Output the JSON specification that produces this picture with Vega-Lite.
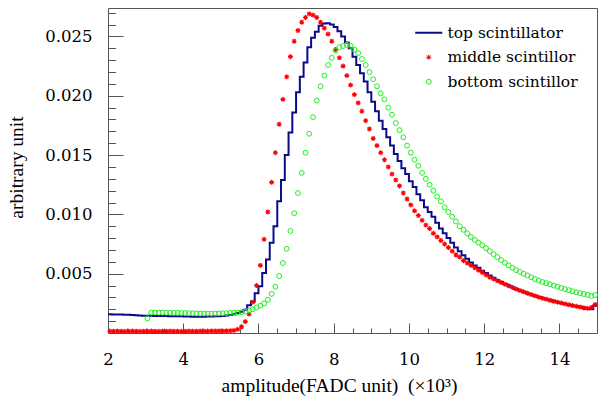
{
"$schema":"https://vega.github.io/schema/vega-lite/v6.json",
"width":489,"height":325,
"autosize":{"type":"none"},
"padding":{"left":108,"top":8,"right":2,"bottom":69},
"background":"white",
"config":{
 "view":{"stroke":"#555555","strokeWidth":1},
 "axis":{"grid":false,"domain":false,"tickColor":"#555555","tickWidth":1,"titleFont":"Liberation Serif","labelFont":"DejaVu Serif","labelFontSize":16.5,"titleFontSize":19.5,"labelColor":"#000000","titleColor":"#000000","titleFontWeight":"normal","labelFlush":false,"labelOverlap":false},
 "legend":{"orient":"none","legendX":313,"legendY":17,"title":null,"labelFont":"DejaVu Serif","labelFontSize":15.5,"labelColor":"#000000","symbolSize":729,"labelOffset":11,"rowPadding":7.5,"padding":0,"symbolStrokeWidth":1}
},
"datasets":{
"top":[
{"series":"top scintillator","x":2.0,"y":0.00158},{"series":"top scintillator","x":2.1,"y":0.00157},{"series":"top scintillator","x":2.2,"y":0.00156},{"series":"top scintillator","x":2.3,"y":0.00155},{"series":"top scintillator","x":2.4,"y":0.00154},{"series":"top scintillator","x":2.5,"y":0.00153},{"series":"top scintillator","x":2.6,"y":0.00151},{"series":"top scintillator","x":2.7,"y":0.00149},{"series":"top scintillator","x":2.8,"y":0.00147},{"series":"top scintillator","x":2.9,"y":0.00146},
{"series":"top scintillator","x":3.0,"y":0.00145},{"series":"top scintillator","x":3.1,"y":0.00145},{"series":"top scintillator","x":3.2,"y":0.00144},{"series":"top scintillator","x":3.3,"y":0.00144},{"series":"top scintillator","x":3.4,"y":0.00143},{"series":"top scintillator","x":3.5,"y":0.00143},{"series":"top scintillator","x":3.6,"y":0.00142},{"series":"top scintillator","x":3.7,"y":0.00142},{"series":"top scintillator","x":3.8,"y":0.00141},{"series":"top scintillator","x":3.9,"y":0.00141},
{"series":"top scintillator","x":4.0,"y":0.00140},{"series":"top scintillator","x":4.1,"y":0.00139},{"series":"top scintillator","x":4.2,"y":0.00138},{"series":"top scintillator","x":4.3,"y":0.00137},{"series":"top scintillator","x":4.4,"y":0.00137},{"series":"top scintillator","x":4.5,"y":0.00138},{"series":"top scintillator","x":4.6,"y":0.00139},{"series":"top scintillator","x":4.7,"y":0.00140},{"series":"top scintillator","x":4.8,"y":0.00141},{"series":"top scintillator","x":4.9,"y":0.00142},
{"series":"top scintillator","x":5.0,"y":0.00144},{"series":"top scintillator","x":5.1,"y":0.00147},{"series":"top scintillator","x":5.2,"y":0.00151},{"series":"top scintillator","x":5.3,"y":0.00158},{"series":"top scintillator","x":5.4,"y":0.00168},{"series":"top scintillator","x":5.5,"y":0.00180},{"series":"top scintillator","x":5.6,"y":0.00196},{"series":"top scintillator","x":5.7,"y":0.00235},{"series":"top scintillator","x":5.8,"y":0.00265},{"series":"top scintillator","x":5.9,"y":0.00335},
{"series":"top scintillator","x":6.0,"y":0.00395},{"series":"top scintillator","x":6.1,"y":0.00505},{"series":"top scintillator","x":6.2,"y":0.00620},{"series":"top scintillator","x":6.3,"y":0.00760},{"series":"top scintillator","x":6.4,"y":0.00900},{"series":"top scintillator","x":6.5,"y":0.01110},{"series":"top scintillator","x":6.6,"y":0.01290},{"series":"top scintillator","x":6.7,"y":0.01500},{"series":"top scintillator","x":6.8,"y":0.01690},{"series":"top scintillator","x":6.9,"y":0.01860},
{"series":"top scintillator","x":7.0,"y":0.02030},{"series":"top scintillator","x":7.1,"y":0.02160},{"series":"top scintillator","x":7.2,"y":0.02280},{"series":"top scintillator","x":7.3,"y":0.02410},{"series":"top scintillator","x":7.4,"y":0.02490},{"series":"top scintillator","x":7.5,"y":0.02540},{"series":"top scintillator","x":7.6,"y":0.02590},{"series":"top scintillator","x":7.7,"y":0.02610},{"series":"top scintillator","x":7.8,"y":0.02612},{"series":"top scintillator","x":7.9,"y":0.02600},
{"series":"top scintillator","x":8.0,"y":0.02580},{"series":"top scintillator","x":8.1,"y":0.02545},{"series":"top scintillator","x":8.2,"y":0.02500},{"series":"top scintillator","x":8.3,"y":0.02450},{"series":"top scintillator","x":8.4,"y":0.02400},{"series":"top scintillator","x":8.5,"y":0.02330},{"series":"top scintillator","x":8.6,"y":0.02260},{"series":"top scintillator","x":8.7,"y":0.02190},{"series":"top scintillator","x":8.8,"y":0.02120},{"series":"top scintillator","x":8.9,"y":0.02030},
{"series":"top scintillator","x":9.0,"y":0.01950},{"series":"top scintillator","x":9.1,"y":0.01870},{"series":"top scintillator","x":9.2,"y":0.01790},{"series":"top scintillator","x":9.3,"y":0.01720},{"series":"top scintillator","x":9.4,"y":0.01650},{"series":"top scintillator","x":9.5,"y":0.01580},{"series":"top scintillator","x":9.6,"y":0.01510},{"series":"top scintillator","x":9.7,"y":0.01450},{"series":"top scintillator","x":9.8,"y":0.01390},{"series":"top scintillator","x":9.9,"y":0.01340},
{"series":"top scintillator","x":10.0,"y":0.01280},{"series":"top scintillator","x":10.1,"y":0.01230},{"series":"top scintillator","x":10.2,"y":0.01170},{"series":"top scintillator","x":10.3,"y":0.01120},{"series":"top scintillator","x":10.4,"y":0.01060},{"series":"top scintillator","x":10.5,"y":0.01020},{"series":"top scintillator","x":10.6,"y":0.00980},{"series":"top scintillator","x":10.7,"y":0.00930},{"series":"top scintillator","x":10.8,"y":0.00880},{"series":"top scintillator","x":10.9,"y":0.00840},
{"series":"top scintillator","x":11.0,"y":0.00800},{"series":"top scintillator","x":11.1,"y":0.00760},{"series":"top scintillator","x":11.2,"y":0.00720},{"series":"top scintillator","x":11.3,"y":0.00690},{"series":"top scintillator","x":11.4,"y":0.00655},{"series":"top scintillator","x":11.5,"y":0.00625},{"series":"top scintillator","x":11.6,"y":0.00595},{"series":"top scintillator","x":11.7,"y":0.00570},{"series":"top scintillator","x":11.8,"y":0.00550},{"series":"top scintillator","x":11.9,"y":0.00525},
{"series":"top scintillator","x":12.0,"y":0.00505},{"series":"top scintillator","x":12.1,"y":0.00485},{"series":"top scintillator","x":12.2,"y":0.00465},{"series":"top scintillator","x":12.3,"y":0.00447},{"series":"top scintillator","x":12.4,"y":0.00430},{"series":"top scintillator","x":12.5,"y":0.00414},{"series":"top scintillator","x":12.6,"y":0.00400},{"series":"top scintillator","x":12.7,"y":0.00386},{"series":"top scintillator","x":12.8,"y":0.00372},{"series":"top scintillator","x":12.9,"y":0.00359},
{"series":"top scintillator","x":13.0,"y":0.00347},{"series":"top scintillator","x":13.1,"y":0.00335},{"series":"top scintillator","x":13.2,"y":0.00324},{"series":"top scintillator","x":13.3,"y":0.00313},{"series":"top scintillator","x":13.4,"y":0.00303},{"series":"top scintillator","x":13.5,"y":0.00294},{"series":"top scintillator","x":13.6,"y":0.00285},{"series":"top scintillator","x":13.7,"y":0.00276},{"series":"top scintillator","x":13.8,"y":0.00268},{"series":"top scintillator","x":13.9,"y":0.00260},
{"series":"top scintillator","x":14.0,"y":0.00252},{"series":"top scintillator","x":14.1,"y":0.00245},{"series":"top scintillator","x":14.2,"y":0.00238},{"series":"top scintillator","x":14.3,"y":0.00231},{"series":"top scintillator","x":14.4,"y":0.00225},{"series":"top scintillator","x":14.5,"y":0.00219},{"series":"top scintillator","x":14.6,"y":0.00213},{"series":"top scintillator","x":14.7,"y":0.00205},{"series":"top scintillator","x":14.8,"y":0.00200},{"series":"top scintillator","x":14.9,"y":0.00230},
{"series":"top scintillator","x":15.0,"y":0.00230}
],
"mid":[
{"series":"middle scintillor","x":2.05,"y":0.00016},{"series":"middle scintillor","x":2.15,"y":0.00015},{"series":"middle scintillor","x":2.25,"y":0.00016},{"series":"middle scintillor","x":2.35,"y":0.00015},{"series":"middle scintillor","x":2.45,"y":0.00014},{"series":"middle scintillor","x":2.55,"y":0.00015},{"series":"middle scintillor","x":2.65,"y":0.00016},{"series":"middle scintillor","x":2.75,"y":0.00015},{"series":"middle scintillor","x":2.85,"y":0.00014},{"series":"middle scintillor","x":2.95,"y":0.00015},
{"series":"middle scintillor","x":3.05,"y":0.00015},{"series":"middle scintillor","x":3.15,"y":0.00016},{"series":"middle scintillor","x":3.25,"y":0.00015},{"series":"middle scintillor","x":3.35,"y":0.00014},{"series":"middle scintillor","x":3.45,"y":0.00015},{"series":"middle scintillor","x":3.55,"y":0.00015},{"series":"middle scintillor","x":3.65,"y":0.00016},{"series":"middle scintillor","x":3.75,"y":0.00015},{"series":"middle scintillor","x":3.85,"y":0.00015},{"series":"middle scintillor","x":3.95,"y":0.00014},
{"series":"middle scintillor","x":4.05,"y":0.00015},{"series":"middle scintillor","x":4.15,"y":0.00016},{"series":"middle scintillor","x":4.25,"y":0.00015},{"series":"middle scintillor","x":4.35,"y":0.00015},{"series":"middle scintillor","x":4.45,"y":0.00016},{"series":"middle scintillor","x":4.55,"y":0.00016},{"series":"middle scintillor","x":4.65,"y":0.00016},{"series":"middle scintillor","x":4.75,"y":0.00017},{"series":"middle scintillor","x":4.85,"y":0.00017},{"series":"middle scintillor","x":4.95,"y":0.00017},
{"series":"middle scintillor","x":5.05,"y":0.00017},{"series":"middle scintillor","x":5.15,"y":0.00018},{"series":"middle scintillor","x":5.25,"y":0.00019},{"series":"middle scintillor","x":5.35,"y":0.00022},{"series":"middle scintillor","x":5.45,"y":0.00031},{"series":"middle scintillor","x":5.55,"y":0.00053},{"series":"middle scintillor","x":5.65,"y":0.00096},{"series":"middle scintillor","x":5.75,"y":0.00160},{"series":"middle scintillor","x":5.85,"y":0.00260},{"series":"middle scintillor","x":5.95,"y":0.00400},
{"series":"middle scintillor","x":6.05,"y":0.00570},{"series":"middle scintillor","x":6.15,"y":0.00790},{"series":"middle scintillor","x":6.25,"y":0.01020},{"series":"middle scintillor","x":6.35,"y":0.01270},{"series":"middle scintillor","x":6.45,"y":0.01520},{"series":"middle scintillor","x":6.55,"y":0.01760},{"series":"middle scintillor","x":6.65,"y":0.01970},{"series":"middle scintillor","x":6.75,"y":0.02160},{"series":"middle scintillor","x":6.85,"y":0.02330},{"series":"middle scintillor","x":6.95,"y":0.02460},
{"series":"middle scintillor","x":7.05,"y":0.02550},{"series":"middle scintillor","x":7.15,"y":0.02620},{"series":"middle scintillor","x":7.25,"y":0.02660},{"series":"middle scintillor","x":7.35,"y":0.02690},{"series":"middle scintillor","x":7.45,"y":0.02680},{"series":"middle scintillor","x":7.55,"y":0.02660},{"series":"middle scintillor","x":7.65,"y":0.02620},{"series":"middle scintillor","x":7.75,"y":0.02570},{"series":"middle scintillor","x":7.85,"y":0.02520},{"series":"middle scintillor","x":7.95,"y":0.02460},
{"series":"middle scintillor","x":8.05,"y":0.02390},{"series":"middle scintillor","x":8.15,"y":0.02320},{"series":"middle scintillor","x":8.25,"y":0.02250},{"series":"middle scintillor","x":8.35,"y":0.02170},{"series":"middle scintillor","x":8.45,"y":0.02090},{"series":"middle scintillor","x":8.55,"y":0.02010},{"series":"middle scintillor","x":8.65,"y":0.01940},{"series":"middle scintillor","x":8.75,"y":0.01870},{"series":"middle scintillor","x":8.85,"y":0.01790},{"series":"middle scintillor","x":8.95,"y":0.01720},
{"series":"middle scintillor","x":9.05,"y":0.01640},{"series":"middle scintillor","x":9.15,"y":0.01580},{"series":"middle scintillor","x":9.25,"y":0.01520},{"series":"middle scintillor","x":9.35,"y":0.01460},{"series":"middle scintillor","x":9.45,"y":0.01400},{"series":"middle scintillor","x":9.55,"y":0.01340},{"series":"middle scintillor","x":9.65,"y":0.01290},{"series":"middle scintillor","x":9.75,"y":0.01240},{"series":"middle scintillor","x":9.85,"y":0.01180},{"series":"middle scintillor","x":9.95,"y":0.01130},
{"series":"middle scintillor","x":10.05,"y":0.01080},{"series":"middle scintillor","x":10.15,"y":0.01030},{"series":"middle scintillor","x":10.25,"y":0.00990},{"series":"middle scintillor","x":10.35,"y":0.00950},{"series":"middle scintillor","x":10.45,"y":0.00910},{"series":"middle scintillor","x":10.55,"y":0.00880},{"series":"middle scintillor","x":10.65,"y":0.00840},{"series":"middle scintillor","x":10.75,"y":0.00810},{"series":"middle scintillor","x":10.85,"y":0.00780},{"series":"middle scintillor","x":10.95,"y":0.00750},
{"series":"middle scintillor","x":11.05,"y":0.00720},{"series":"middle scintillor","x":11.15,"y":0.00690},{"series":"middle scintillor","x":11.25,"y":0.00660},{"series":"middle scintillor","x":11.35,"y":0.00640},{"series":"middle scintillor","x":11.45,"y":0.00610},{"series":"middle scintillor","x":11.55,"y":0.00590},{"series":"middle scintillor","x":11.65,"y":0.00570},{"series":"middle scintillor","x":11.75,"y":0.00550},{"series":"middle scintillor","x":11.85,"y":0.00530},{"series":"middle scintillor","x":11.95,"y":0.00510},
{"series":"middle scintillor","x":12.05,"y":0.00490},{"series":"middle scintillor","x":12.15,"y":0.00470},{"series":"middle scintillor","x":12.25,"y":0.00456},{"series":"middle scintillor","x":12.35,"y":0.00440},{"series":"middle scintillor","x":12.45,"y":0.00426},{"series":"middle scintillor","x":12.55,"y":0.00412},{"series":"middle scintillor","x":12.65,"y":0.00398},{"series":"middle scintillor","x":12.75,"y":0.00384},{"series":"middle scintillor","x":12.85,"y":0.00371},{"series":"middle scintillor","x":12.95,"y":0.00359},
{"series":"middle scintillor","x":13.05,"y":0.00347},{"series":"middle scintillor","x":13.15,"y":0.00335},{"series":"middle scintillor","x":13.25,"y":0.00324},{"series":"middle scintillor","x":13.35,"y":0.00313},{"series":"middle scintillor","x":13.45,"y":0.00303},{"series":"middle scintillor","x":13.55,"y":0.00294},{"series":"middle scintillor","x":13.65,"y":0.00285},{"series":"middle scintillor","x":13.75,"y":0.00276},{"series":"middle scintillor","x":13.85,"y":0.00268},{"series":"middle scintillor","x":13.95,"y":0.00260},
{"series":"middle scintillor","x":14.05,"y":0.00252},{"series":"middle scintillor","x":14.15,"y":0.00245},{"series":"middle scintillor","x":14.25,"y":0.00238},{"series":"middle scintillor","x":14.35,"y":0.00231},{"series":"middle scintillor","x":14.45,"y":0.00225},{"series":"middle scintillor","x":14.55,"y":0.00219},{"series":"middle scintillor","x":14.65,"y":0.00213},{"series":"middle scintillor","x":14.75,"y":0.00208},{"series":"middle scintillor","x":14.85,"y":0.00215},{"series":"middle scintillor","x":14.95,"y":0.00240}
],
"bot":[
{"series":"bottom scintillor","x":3.05,"y":0.00124},{"series":"bottom scintillor","x":3.15,"y":0.00172},{"series":"bottom scintillor","x":3.25,"y":0.00173},{"series":"bottom scintillor","x":3.35,"y":0.00172},{"series":"bottom scintillor","x":3.45,"y":0.00172},{"series":"bottom scintillor","x":3.55,"y":0.00171},{"series":"bottom scintillor","x":3.65,"y":0.00171},{"series":"bottom scintillor","x":3.75,"y":0.00170},{"series":"bottom scintillor","x":3.85,"y":0.00170},{"series":"bottom scintillor","x":3.95,"y":0.00169},
{"series":"bottom scintillor","x":4.05,"y":0.00168},{"series":"bottom scintillor","x":4.15,"y":0.00167},{"series":"bottom scintillor","x":4.25,"y":0.00166},{"series":"bottom scintillor","x":4.35,"y":0.00165},{"series":"bottom scintillor","x":4.45,"y":0.00164},{"series":"bottom scintillor","x":4.55,"y":0.00164},{"series":"bottom scintillor","x":4.65,"y":0.00163},{"series":"bottom scintillor","x":4.75,"y":0.00163},{"series":"bottom scintillor","x":4.85,"y":0.00164},{"series":"bottom scintillor","x":4.95,"y":0.00165},
{"series":"bottom scintillor","x":5.05,"y":0.00166},{"series":"bottom scintillor","x":5.15,"y":0.00167},{"series":"bottom scintillor","x":5.25,"y":0.00169},{"series":"bottom scintillor","x":5.35,"y":0.00171},{"series":"bottom scintillor","x":5.45,"y":0.00173},{"series":"bottom scintillor","x":5.55,"y":0.00176},{"series":"bottom scintillor","x":5.65,"y":0.00180},{"series":"bottom scintillor","x":5.75,"y":0.00190},{"series":"bottom scintillor","x":5.85,"y":0.00200},{"series":"bottom scintillor","x":5.95,"y":0.00215},
{"series":"bottom scintillor","x":6.05,"y":0.00230},{"series":"bottom scintillor","x":6.15,"y":0.00250},{"series":"bottom scintillor","x":6.25,"y":0.00280},{"series":"bottom scintillor","x":6.35,"y":0.00330},{"series":"bottom scintillor","x":6.45,"y":0.00390},{"series":"bottom scintillor","x":6.55,"y":0.00480},{"series":"bottom scintillor","x":6.65,"y":0.00590},{"series":"bottom scintillor","x":6.75,"y":0.00710},{"series":"bottom scintillor","x":6.85,"y":0.00860},{"series":"bottom scintillor","x":6.95,"y":0.01010},
{"series":"bottom scintillor","x":7.05,"y":0.01180},{"series":"bottom scintillor","x":7.15,"y":0.01350},{"series":"bottom scintillor","x":7.25,"y":0.01520},{"series":"bottom scintillor","x":7.35,"y":0.01680},{"series":"bottom scintillor","x":7.45,"y":0.01820},{"series":"bottom scintillor","x":7.55,"y":0.01960},{"series":"bottom scintillor","x":7.65,"y":0.02080},{"series":"bottom scintillor","x":7.75,"y":0.02170},{"series":"bottom scintillor","x":7.85,"y":0.02260},{"series":"bottom scintillor","x":7.95,"y":0.02320},
{"series":"bottom scintillor","x":8.05,"y":0.02380},{"series":"bottom scintillor","x":8.15,"y":0.02410},{"series":"bottom scintillor","x":8.25,"y":0.02420},{"series":"bottom scintillor","x":8.35,"y":0.02430},{"series":"bottom scintillor","x":8.45,"y":0.02420},{"series":"bottom scintillor","x":8.55,"y":0.02390},{"series":"bottom scintillor","x":8.65,"y":0.02360},{"series":"bottom scintillor","x":8.75,"y":0.02310},{"series":"bottom scintillor","x":8.85,"y":0.02260},{"series":"bottom scintillor","x":8.95,"y":0.02200},
{"series":"bottom scintillor","x":9.05,"y":0.02140},{"series":"bottom scintillor","x":9.15,"y":0.02080},{"series":"bottom scintillor","x":9.25,"y":0.02020},{"series":"bottom scintillor","x":9.35,"y":0.01970},{"series":"bottom scintillor","x":9.45,"y":0.01900},{"series":"bottom scintillor","x":9.55,"y":0.01840},{"series":"bottom scintillor","x":9.65,"y":0.01770},{"series":"bottom scintillor","x":9.75,"y":0.01710},{"series":"bottom scintillor","x":9.85,"y":0.01650},{"series":"bottom scintillor","x":9.95,"y":0.01580},
{"series":"bottom scintillor","x":10.05,"y":0.01520},{"series":"bottom scintillor","x":10.15,"y":0.01460},{"series":"bottom scintillor","x":10.25,"y":0.01410},{"series":"bottom scintillor","x":10.35,"y":0.01350},{"series":"bottom scintillor","x":10.45,"y":0.01300},{"series":"bottom scintillor","x":10.55,"y":0.01250},{"series":"bottom scintillor","x":10.65,"y":0.01200},{"series":"bottom scintillor","x":10.75,"y":0.01150},{"series":"bottom scintillor","x":10.85,"y":0.01110},{"series":"bottom scintillor","x":10.95,"y":0.01060},
{"series":"bottom scintillor","x":11.05,"y":0.01020},{"series":"bottom scintillor","x":11.15,"y":0.00980},{"series":"bottom scintillor","x":11.25,"y":0.00940},{"series":"bottom scintillor","x":11.35,"y":0.00900},{"series":"bottom scintillor","x":11.45,"y":0.00870},{"series":"bottom scintillor","x":11.55,"y":0.00840},{"series":"bottom scintillor","x":11.65,"y":0.00810},{"series":"bottom scintillor","x":11.75,"y":0.00785},{"series":"bottom scintillor","x":11.85,"y":0.00762},{"series":"bottom scintillor","x":11.95,"y":0.00740},
{"series":"bottom scintillor","x":12.05,"y":0.00715},{"series":"bottom scintillor","x":12.15,"y":0.00690},{"series":"bottom scintillor","x":12.25,"y":0.00665},{"series":"bottom scintillor","x":12.35,"y":0.00640},{"series":"bottom scintillor","x":12.45,"y":0.00615},{"series":"bottom scintillor","x":12.55,"y":0.00592},{"series":"bottom scintillor","x":12.65,"y":0.00570},{"series":"bottom scintillor","x":12.75,"y":0.00550},{"series":"bottom scintillor","x":12.85,"y":0.00530},{"series":"bottom scintillor","x":12.95,"y":0.00515},
{"series":"bottom scintillor","x":13.05,"y":0.00500},{"series":"bottom scintillor","x":13.15,"y":0.00485},{"series":"bottom scintillor","x":13.25,"y":0.00470},{"series":"bottom scintillor","x":13.35,"y":0.00455},{"series":"bottom scintillor","x":13.45,"y":0.00442},{"series":"bottom scintillor","x":13.55,"y":0.00430},{"series":"bottom scintillor","x":13.65,"y":0.00420},{"series":"bottom scintillor","x":13.75,"y":0.00410},{"series":"bottom scintillor","x":13.85,"y":0.00400},{"series":"bottom scintillor","x":13.95,"y":0.00390},
{"series":"bottom scintillor","x":14.05,"y":0.00380},{"series":"bottom scintillor","x":14.15,"y":0.00370},{"series":"bottom scintillor","x":14.25,"y":0.00361},{"series":"bottom scintillor","x":14.35,"y":0.00352},{"series":"bottom scintillor","x":14.45,"y":0.00343},{"series":"bottom scintillor","x":14.55,"y":0.00336},{"series":"bottom scintillor","x":14.65,"y":0.00329},{"series":"bottom scintillor","x":14.75,"y":0.00322},{"series":"bottom scintillor","x":14.85,"y":0.00312},{"series":"bottom scintillor","x":14.95,"y":0.00320}
]
},
"layer":[
 {"data":{"name":"top"},
  "mark":{"type":"line","interpolate":"step-after","strokeWidth":2,"clip":true},
  "encoding":{
   "x":{"field":"x","type":"quantitative","scale":{"domain":[2,15],"nice":false,"zero":false},
        "axis":{"orient":"bottom","values":[2,4,6,8,10,12,14],"tickSize":-10,"labelPadding":28,"labelFont":"DejaVu Serif","labelFontSize":16.5,"title":"amplitude(FADC unit)\u00a0 (×10³)","titleX":231,"titleY":58,"titleBaseline":"alphabetic","titleAlign":"center","titleAnchor":null}},
   "y":{"field":"y","type":"quantitative","scale":{"domain":[0,0.0274],"nice":false,"zero":false},
        "axis":{"orient":"left","values":[0.005,0.01,0.015,0.02,0.025],"format":".3f","tickSize":-15,"labelPadding":31,"labelFont":"DejaVu Serif","labelFontSize":16.5,"title":"arbitrary unit","titleX":-85.5,"titleY":159,"titleAngle":-90,"titleBaseline":"alphabetic","titleAlign":"center","titleAnchor":null}},
   "color":{"field":"series","type":"nominal","scale":{"domain":["top scintillator","middle scintillor","bottom scintillor"],"range":["#0b0b8a","#ff0000","#22ee22"]},
     "legend":{"symbolSize":729,"labelOffset":11,"rowPadding":7.5,"labelFont":"DejaVu Serif","labelFontSize":15.5,"encode":{"symbols":{"update":{"size":{"signal":"datum.value === 'top scintillator' ? 729 : 25"},"strokeWidth":{"signal":"datum.value === 'top scintillator' ? 2 : 1"},"fill":{"value":"transparent"}}}}}}
  }},
 {"data":{"name":"mid"},
  "mark":{"type":"point","filled":false,"size":25,"strokeWidth":1.1,"opacity":1},
  "encoding":{
   "x":{"field":"x","type":"quantitative","scale":{"domain":[2,15],"nice":false,"zero":false},
        "axis":{"orient":"bottom","values":[2.5,3,3.5,4.5,5,5.5,6.5,7,7.5,8.5,9,9.5,10.5,11,11.5,12.5,13,13.5,14.5],"tickSize":-5,"labels":false,"title":null}},
   "y":{"field":"y","type":"quantitative","scale":{"domain":[0,0.0274],"nice":false,"zero":false},
        "axis":{"orient":"left","values":[0.001,0.002,0.003,0.004,0.006,0.007,0.008,0.009,0.011,0.012,0.013,0.014,0.016,0.017,0.018,0.019,0.021,0.022,0.023,0.024,0.026,0.027],"tickSize":-7.5,"labels":false,"title":null}},
   "color":{"field":"series","type":"nominal","scale":{"domain":["top scintillator","middle scintillor","bottom scintillor"],"range":["#0b0b8a","#ff0000","#22ee22"]}},
   "shape":{"field":"series","type":"nominal","scale":{"domain":["top scintillator","middle scintillor","bottom scintillor"],"range":["stroke","M-1,0L1,0M0,-1L0,1M-0.71,-0.71L0.71,0.71M-0.71,0.71L0.71,-0.71","circle"]}}
  }},
 {"data":{"name":"bot"},
  "mark":{"type":"point","filled":false,"size":24,"strokeWidth":1,"opacity":1},
  "encoding":{
   "x":{"field":"x","type":"quantitative","scale":{"domain":[2,15],"nice":false,"zero":false},"axis":null},
   "y":{"field":"y","type":"quantitative","scale":{"domain":[0,0.0274],"nice":false,"zero":false},"axis":null},
   "color":{"field":"series","type":"nominal","scale":{"domain":["top scintillator","middle scintillor","bottom scintillor"],"range":["#0b0b8a","#ff0000","#22ee22"]}},
   "shape":{"field":"series","type":"nominal","scale":{"domain":["top scintillator","middle scintillor","bottom scintillor"],"range":["stroke","M-1,0L1,0M0,-1L0,1M-0.71,-0.71L0.71,0.71M-0.71,0.71L0.71,-0.71","circle"]}}
  }}
],
"resolve":{"axis":{"x":"independent","y":"independent"}}
}
